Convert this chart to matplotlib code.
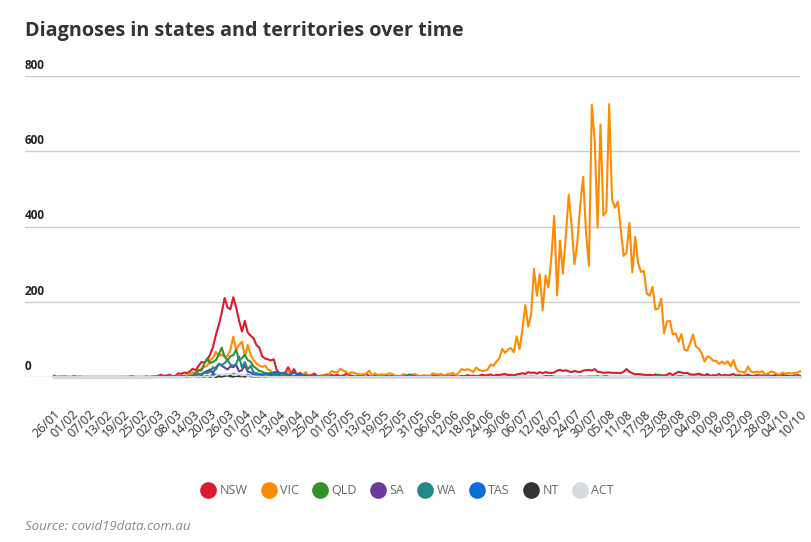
import matplotlib
matplotlib.use("Agg")
import matplotlib.pyplot as plt
from matplotlib.lines import Line2D
import numpy as np
import pandas as pd

plt.rcParams['font.family'] = ['Open Sans', 'DejaVu Sans']

# daily new diagnoses, 26/01/2020 - 10/10/2020 (one row per month)
days = pd.date_range('2020-01-26', '2020-10-10')

nsw = [
    3, 0, 1, 0, 0, 0,
    0, 0, 0, 0, 0, 0, 0, 0, 0, 0, 0, 0, 0, 0, 0, 0, 0, 0, 0, 0, 0, 0, 0, 0, 0, 0, 0, 0, 0,
    2, 3, 6, 3, 4, 6, 2, 3, 10, 8, 12, 10, 15, 22, 18, 30, 40, 38, 44, 60, 80, 112, 139, 170, 210, 185, 180, 212, 185, 150, 121,
    149, 118, 110, 103, 85, 78, 55, 49, 47, 44, 47, 19, 10, 8, 12, 26, 8, 21, 6, 11, 6, 4, 3, 5, 9, 3, 2, 4, 6, 7,
    5, 3, 6, 2, 4, 8, 6, 3, 1, 2, 3, 4, 9, 2, 1, 3, 2, 1, 4, 3, 1, 4, 2, 1, 3, 2, 1, 2, 4, 3, 1,
    2, 3, 1, 2, 3, 5, 2, 1, 3, 2, 1, 4, 2, 1, 3, 2, 5, 3, 4, 2, 3, 6, 4, 5, 7, 3, 6, 5, 7, 8,
    5, 6, 4, 7, 8, 10, 8, 13, 11, 12, 9, 13, 10, 13, 11, 11, 12, 17, 19, 16, 18, 15, 13, 16, 14, 13, 17, 18, 19, 17, 21,
    14, 13, 11, 12, 12, 11, 11, 11, 10, 14, 21, 14, 10, 7, 8, 7, 6, 5, 6, 4, 7, 4, 5, 4, 6, 10, 5, 10, 14, 12, 10,
    11, 7, 6, 7, 9, 6, 4, 8, 3, 5, 4, 8, 3, 6, 4, 6, 8, 4, 5, 3, 4, 6, 3, 3, 5, 4, 3, 6, 4, 3,
    4, 6, 3, 5, 4, 3, 2, 4, 5, 3,
]
vic = [
    0, 0, 0, 0, 1, 0,
    0, 0, 0, 0, 0, 0, 0, 0, 0, 0, 0, 0, 0, 0, 0, 0, 0, 0, 0, 0, 0, 0, 0, 0, 0, 0, 1, 0, 0,
    2, 2, 0, 1, 1, 1, 1, 0, 4, 3, 2, 5, 9, 13, 8, 14, 23, 27, 30, 44, 51, 67, 56, 60, 54, 56, 72, 107, 72, 85, 94,
    54, 85, 60, 45, 36, 30, 27, 30, 20, 16, 9, 14, 8, 6, 3, 17, 4, 3, 1, 1, 6, 13, 3, 3, 3, 2, 3, 5, 3, 5,
    16, 13, 12, 22, 17, 14, 8, 13, 10, 8, 7, 7, 9, 17, 4, 10, 5, 7, 6, 7, 10, 8, 4, 1, 3, 8, 4, 3, 7, 8, 3,
    2, 5, 4, 3, 10, 7, 7, 8, 3, 8, 8, 11, 4, 12, 21, 18, 21, 18, 13, 25, 19, 16, 17, 20, 33, 30, 41, 49, 75, 64,
    73, 77, 66, 108, 74, 127, 191, 134, 165, 288, 216, 273, 177, 270, 238, 317, 428, 217, 363, 275, 374, 484, 403, 300, 357, 459, 532, 384, 295, 723, 627,
    397, 671, 429, 439, 725, 471, 450, 466, 394, 322, 331, 410, 278, 372, 303, 279, 282, 222, 216, 240, 179, 182, 208, 116, 148, 149, 113, 116, 94, 114, 73,
    70, 90, 113, 81, 76, 63, 41, 55, 51, 43, 43, 35, 41, 35, 42, 28, 45, 21, 14, 14, 11, 28, 15, 12, 14, 12, 16, 5, 10, 15,
    13, 8, 6, 12, 8, 11, 9, 11, 12, 15,
]
qld = [
    0, 0, 0, 1, 1, 0,
    0, 0, 0, 1, 0, 0, 0, 0, 0, 0, 0, 0, 0, 0, 0, 0, 0, 0, 0, 0, 0, 2, 0, 0, 0, 0, 1, 0, 1,
    0, 0, 1, 2, 1, 0, 1, 0, 1, 1, 2, 1, 3, 5, 11, 19, 17, 36, 50, 37, 40, 45, 60, 78, 54, 45, 55, 58, 72, 45, 50,
    59, 45, 41, 28, 23, 16, 14, 10, 9, 11, 8, 6, 5, 4, 5, 3, 2, 2, 3, 1, 2, 1, 1, 1, 0, 1, 0, 1, 0, 1,
    1, 0, 0, 1, 0, 0, 1, 0, 0, 0, 0, 0, 0, 1, 0, 0, 0, 0, 0, 0, 0, 0, 0, 1, 0, 0, 0, 0, 0, 0, 0,
    0, 0, 0, 0, 0, 1, 0, 0, 0, 0, 0, 0, 0, 0, 0, 0, 0, 0, 0, 0, 0, 0, 0, 0, 0, 0, 0, 0, 0, 0,
    1, 0, 0, 0, 0, 0, 0, 0, 1, 0, 0, 0, 0, 0, 0, 0, 0, 0, 0, 0, 0, 0, 0, 0, 0, 1, 0, 0, 1, 1, 1,
    2, 0, 0, 0, 0, 0, 0, 0, 0, 0, 0, 0, 0, 0, 0, 0, 0, 0, 0, 0, 1, 7, 2, 2, 1, 0, 0, 0, 2, 2, 0,
    0, 0, 0, 0, 1, 0, 0, 2, 0, 1, 0, 0, 0, 0, 0, 0, 0, 0, 1, 0, 0, 0, 0, 0, 0, 0, 0, 0, 0, 0,
    0, 0, 0, 0, 0, 0, 0, 0, 0, 0,
]
sa = [
    0, 0, 0, 0, 0, 0,
    0, 2, 0, 0, 0, 0, 0, 0, 0, 0, 0, 0, 0, 0, 0, 0, 0, 0, 0, 0, 0, 0, 0, 0, 0, 0, 0, 0, 0,
    0, 1, 0, 0, 1, 0, 0, 0, 0, 1, 2, 0, 1, 2, 4, 8, 5, 12, 16, 20, 10, 26, 34, 30, 25, 20, 28, 26, 32, 15, 18,
    32, 14, 12, 7, 5, 3, 2, 2, 1, 1, 0, 1, 0, 0, 0, 0, 0, 0, 0, 0, 0, 0, 0, 0, 0, 0, 0, 0, 0, 0,
    0, 0, 0, 0, 0, 0, 0, 0, 0, 0, 0, 0, 0, 0, 0, 0, 0, 0, 0, 0, 0, 0, 0, 0, 0, 0, 0, 0, 0, 0, 0,
    0, 0, 0, 0, 0, 0, 0, 0, 0, 0, 0, 0, 0, 0, 0, 0, 0, 0, 0, 0, 0, 0, 0, 0, 0, 0, 0, 0, 0, 0,
    0, 0, 0, 0, 0, 0, 0, 0, 0, 0, 0, 0, 0, 0, 0, 0, 0, 0, 0, 0, 0, 1, 0, 0, 0, 0, 0, 0, 0, 0, 0,
    0, 0, 1, 2, 0, 0, 0, 0, 0, 0, 0, 0, 0, 0, 0, 0, 0, 0, 0, 0, 0, 0, 0, 0, 0, 0, 0, 0, 0, 0, 0,
    0, 0, 0, 0, 0, 0, 0, 0, 0, 0, 0, 0, 0, 0, 0, 0, 0, 0, 0, 0, 1, 0, 0, 0, 0, 0, 0, 0, 0, 0,
    0, 0, 0, 0, 1, 0, 0, 0, 0, 0,
]
wa = [
    0, 0, 0, 0, 0, 0,
    0, 0, 0, 0, 0, 0, 0, 0, 0, 0, 0, 0, 0, 0, 0, 0, 0, 0, 0, 0, 1, 0, 0, 0, 0, 0, 0, 0, 0,
    0, 0, 0, 0, 0, 0, 0, 0, 1, 0, 1, 2, 1, 5, 4, 3, 8, 12, 10, 14, 26, 20, 35, 32, 37, 45, 33, 30, 35, 55, 25,
    40, 20, 30, 12, 10, 8, 7, 6, 4, 3, 2, 8, 1, 2, 1, 1, 0, 1, 0, 0, 1, 0, 0, 1, 0, 0, 0, 0, 0, 0,
    0, 0, 0, 0, 0, 0, 0, 0, 0, 0, 0, 0, 0, 0, 0, 0, 0, 0, 0, 0, 1, 0, 0, 0, 0, 0, 4, 7, 3, 0, 0,
    1, 0, 0, 0, 0, 0, 0, 0, 2, 0, 0, 0, 0, 0, 0, 0, 0, 1, 0, 0, 0, 0, 0, 0, 0, 0, 0, 1, 0, 0,
    0, 0, 0, 0, 0, 0, 0, 0, 0, 0, 0, 0, 0, 3, 2, 3, 0, 0, 0, 0, 0, 0, 0, 0, 0, 0, 0, 0, 0, 0, 0,
    0, 0, 0, 0, 0, 0, 0, 0, 0, 0, 0, 0, 0, 0, 0, 0, 0, 0, 0, 0, 0, 0, 0, 0, 0, 0, 0, 0, 0, 0, 0,
    0, 0, 0, 0, 0, 0, 0, 0, 0, 0, 0, 0, 2, 3, 1, 2, 0, 0, 0, 0, 0, 0, 0, 0, 0, 3, 4, 2, 4, 1,
    0, 0, 0, 0, 0, 0, 1, 4, 2, 1,
]
tas = [
    0, 0, 0, 0, 0, 0,
    0, 0, 0, 0, 0, 0, 0, 0, 0, 0, 0, 0, 0, 0, 0, 0, 0, 0, 0, 0, 0, 0, 0, 0, 0, 0, 0, 0, 0,
    0, 1, 0, 0, 0, 0, 0, 0, 0, 0, 0, 0, 0, 1, 1, 1, 3, 2, 2, 3, 7, 6, 3, 6, 4, 6, 4, 9, 5, 4, 3,
    4, 6, 3, 5, 4, 6, 2, 10, 8, 6, 12, 14, 9, 11, 10, 5, 8, 12, 7, 6, 4, 5, 3, 2, 2, 1, 1, 0, 1, 0,
    0, 1, 0, 0, 0, 0, 0, 0, 0, 0, 0, 0, 0, 0, 0, 0, 0, 0, 0, 0, 0, 0, 0, 0, 0, 0, 0, 0, 0, 0, 0,
    0, 0, 0, 0, 0, 0, 0, 0, 0, 0, 0, 0, 0, 0, 0, 0, 0, 0, 0, 0, 0, 0, 0, 0, 0, 0, 0, 0, 0, 0,
    0, 0, 0, 0, 0, 0, 0, 0, 0, 0, 0, 0, 0, 0, 0, 0, 0, 0, 0, 0, 0, 0, 0, 0, 0, 0, 0, 0, 0, 0, 0,
    0, 0, 0, 0, 0, 0, 0, 0, 0, 0, 0, 0, 0, 0, 0, 0, 0, 0, 0, 0, 0, 0, 0, 0, 0, 0, 0, 0, 0, 0, 0,
    0, 0, 0, 0, 0, 0, 0, 0, 0, 0, 0, 0, 0, 0, 0, 0, 0, 0, 0, 0, 0, 0, 0, 0, 0, 0, 0, 0, 0, 0,
    0, 0, 0, 0, 0, 0, 0, 0, 0, 0,
]
nt = [
    0, 0, 0, 0, 0, 0,
    0, 0, 0, 0, 0, 0, 0, 0, 0, 0, 0, 0, 0, 0, 0, 0, 0, 0, 0, 0, 0, 0, 0, 0, 0, 0, 0, 0, 0,
    0, 0, 0, 0, 1, 0, 0, 0, 0, 0, 0, 0, 0, 0, 0, 0, 0, 0, 1, 0, 2, 0, 2, 1, 3, 4, 2, 1, 3, 2, 2,
    1, 3, 2, 1, 1, 0, 1, 0, 0, 0, 0, 0, 0, 0, 0, 0, 0, 0, 0, 0, 0, 0, 0, 0, 0, 0, 0, 0, 0, 0,
    0, 0, 0, 0, 0, 0, 0, 0, 0, 0, 0, 0, 0, 0, 0, 0, 0, 0, 0, 0, 0, 0, 0, 0, 0, 0, 0, 0, 0, 0, 0,
    0, 0, 0, 0, 0, 0, 0, 0, 0, 0, 0, 0, 0, 0, 0, 0, 0, 0, 0, 0, 0, 0, 0, 0, 0, 0, 0, 0, 0, 0,
    0, 0, 0, 0, 0, 0, 0, 0, 0, 0, 0, 0, 0, 0, 0, 0, 0, 0, 0, 0, 0, 0, 0, 0, 0, 0, 0, 0, 0, 0, 0,
    0, 0, 0, 0, 0, 0, 0, 0, 0, 0, 0, 0, 0, 0, 0, 0, 0, 0, 0, 0, 0, 0, 0, 0, 0, 0, 0, 0, 0, 0, 0,
    0, 0, 0, 0, 0, 0, 0, 0, 0, 0, 0, 0, 0, 0, 0, 0, 0, 0, 0, 0, 0, 0, 0, 0, 0, 0, 0, 0, 0, 0,
    0, 0, 0, 0, 0, 0, 0, 0, 0, 0,
]
act = [
    0, 0, 0, 0, 0, 0,
    0, 0, 0, 0, 0, 0, 0, 0, 0, 0, 0, 0, 0, 0, 0, 0, 0, 0, 0, 0, 0, 0, 0, 0, 0, 0, 0, 0, 0,
    0, 0, 0, 0, 0, 0, 0, 0, 0, 0, 0, 1, 0, 0, 0, 1, 0, 2, 0, 3, 0, 4, 8, 5, 7, 6, 9, 6, 5, 8, 4,
    6, 3, 4, 2, 1, 1, 0, 1, 0, 0, 0, 0, 0, 0, 0, 0, 0, 0, 0, 0, 0, 0, 0, 0, 0, 0, 0, 0, 0, 0,
    0, 0, 0, 0, 0, 0, 0, 0, 0, 0, 0, 0, 0, 0, 0, 0, 0, 0, 0, 0, 0, 0, 0, 0, 0, 0, 0, 0, 0, 0, 0,
    0, 0, 0, 0, 0, 0, 0, 0, 0, 0, 0, 0, 0, 0, 0, 0, 0, 0, 0, 0, 0, 0, 0, 0, 0, 0, 0, 0, 0, 0,
    0, 0, 0, 0, 0, 0, 0, 0, 0, 0, 0, 0, 0, 0, 0, 0, 0, 0, 0, 0, 0, 0, 0, 0, 0, 0, 0, 0, 0, 0, 0,
    0, 0, 0, 0, 0, 0, 0, 0, 0, 0, 0, 0, 0, 0, 0, 0, 0, 0, 0, 0, 0, 0, 0, 0, 0, 0, 0, 0, 0, 0, 0,
    0, 0, 0, 0, 0, 0, 0, 0, 0, 0, 0, 0, 0, 0, 0, 0, 0, 0, 0, 0, 0, 0, 0, 0, 0, 0, 0, 0, 0, 0,
    0, 0, 0, 0, 0, 0, 0, 0, 0, 0,
]

states = ['NSW', 'VIC', 'QLD', 'SA', 'WA', 'TAS', 'NT', 'ACT']
series = [nsw, vic, qld, sa, wa, tas, nt, act]
colors = ['#dc1a32', '#ff8c00', '#33912a', '#6a3a9c', '#22898a', '#0a6ed6', '#333333', '#d5d9e0']
yticks = [0, 200, 400, 600, 800]

for name, s in zip(states, series):
    assert len(s) == len(days), (name, len(s))

W, H = 811, 542
fig = plt.figure(figsize=(W / 100, H / 100), dpi=100)
ax = fig.add_axes([25 / W, 165 / H, 775 / W, 301 / H])

x = np.arange(len(days))
for i, (name, s, c) in enumerate(zip(states, series, colors)):
    ax.plot(x, s, color=c, lw=1.5, clip_on=False, zorder=3 + i, solid_joinstyle='round')

ax.set_xlim(-10.03, len(days) - 1)
ax.set_ylim(0, 800)
for sp in ax.spines.values():
    sp.set_visible(False)

ax.set_yticks(yticks)
ax.set_yticklabels([])
ax.tick_params(axis='y', length=0)
ax.grid(axis='y', color='#cccccc', lw=1)
ax.set_axisbelow(True)
for v in yticks:
    ax.annotate(str(v), xy=(0, v), xycoords=ax.get_yaxis_transform(),
                xytext=(0, 3), textcoords='offset points',
                ha='left', va='bottom', fontsize=8.5, fontweight='bold', color='#222222')

ticks = x[::6]
ax.set_xticks(ticks)
ax.set_xticklabels(days[::6].strftime('%d/%m'), rotation=45, ha='right',
                   rotation_mode='anchor', fontsize=9, color='#333333')
ax.tick_params(axis='x', length=0, pad=22)

fig.text(25 / W, 1 - 31 / H, 'Diagnoses in states and territories over time',
         fontsize=14.2, fontweight='bold', color='#333333', va='center')

handles = [Line2D([], [], marker='o', ls='', color=c, markersize=11) for c in colors]
fig.legend(handles, states, loc='center', bbox_to_anchor=(408 / W, 1 - 491 / H), ncol=8,
           frameon=False, handletextpad=0.4, columnspacing=1.2, fontsize=9,
           labelcolor='#666666', handlelength=1)

fig.text(25 / W, 1 - 527 / H, 'Source: covid19data.com.au', fontsize=9.5,
         style='italic', color='#888888', va='center')

fig.savefig('out.png', dpi=100)
